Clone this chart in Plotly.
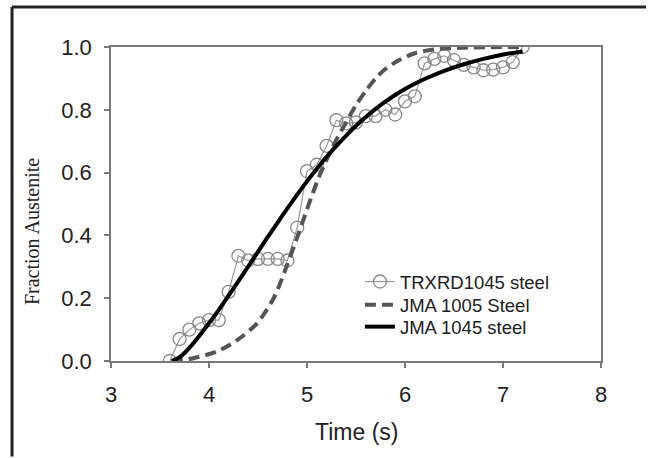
import plotly.graph_objects as go

# TRXRD measurements (1045 steel)
trx_time = [3.6, 3.7, 3.8, 3.9, 4.0, 4.1, 4.2, 4.3, 4.4, 4.5, 4.6, 4.7, 4.8, 4.9,
            5.0, 5.1, 5.2, 5.3, 5.4, 5.5, 5.6, 5.7, 5.8, 5.9, 6.0, 6.1, 6.2, 6.3,
            6.4, 6.5, 6.6, 6.7, 6.8, 6.9, 7.0, 7.1, 7.2]
trx_frac = [0.0, 0.07, 0.10, 0.12, 0.13, 0.13, 0.22, 0.335, 0.32, 0.325, 0.325, 0.325, 0.32, 0.425,
            0.605, 0.625, 0.685, 0.767, 0.757, 0.76, 0.78, 0.78, 0.80, 0.785, 0.827, 0.843, 0.948, 0.962,
            0.972, 0.958, 0.943, 0.935, 0.926, 0.928, 0.935, 0.952, 1.0]

# JMA 1005 steel curve
jma1005_time = [3.62, 3.84, 4.08, 4.28, 4.49, 4.66, 4.79, 4.89, 4.98, 5.06, 5.14, 5.22, 5.30,
                5.40, 5.50, 5.60, 5.70, 5.80, 5.95, 6.10, 6.30, 6.60, 7.20]
jma1005_frac = [0.0, 0.009, 0.03, 0.065, 0.12, 0.20, 0.30, 0.385, 0.465, 0.535, 0.60, 0.655, 0.705,
                0.76, 0.815, 0.86, 0.90, 0.93, 0.96, 0.98, 0.992, 0.998, 1.0]

# JMA 1045 steel curve
jma1045_time = [3.62, 3.7, 3.8, 3.9, 4.0, 4.1, 4.2, 4.3, 4.4, 4.5, 4.6, 4.7, 4.8, 4.9,
                5.0, 5.1, 5.2, 5.3, 5.4, 5.5, 5.6, 5.7, 5.8, 5.9, 6.0, 6.1, 6.2, 6.4,
                6.6, 6.8, 7.0, 7.2]
jma1045_frac = [0.0, 0.012, 0.042, 0.08, 0.12, 0.163, 0.208, 0.254, 0.301, 0.348, 0.395, 0.441,
                0.486, 0.53, 0.572, 0.612, 0.65, 0.685, 0.718, 0.749, 0.777, 0.803, 0.826, 0.847,
                0.866, 0.883, 0.898, 0.924, 0.945, 0.962, 0.976, 0.986]

x_ticks = [3, 4, 5, 6, 7, 8]
y_ticks = [0.0, 0.2, 0.4, 0.6, 0.8, 1.0]
y_ticklabels = ["0.0", "0.2", "0.4", "0.6", "0.8", "1.0"]

SANS = "Arial, Liberation Sans, sans-serif"
SERIF = "Times New Roman, Liberation Serif, serif"

fig = go.Figure()
fig.add_trace(go.Scatter(
    x=trx_time, y=trx_frac, mode="lines+markers", name="TRXRD1045 steel", legend="legend",
    line=dict(color="#9a9a9a", width=1.2),
    marker=dict(symbol="circle-open", size=13, color="#8a8a8a", line=dict(width=1.3)),
))
fig.add_trace(go.Scatter(
    x=jma1005_time, y=jma1005_frac, mode="lines", name="JMA 1005 Steel", legend="legend2",
    line=dict(color="#555555", width=4, dash="11px,6px", shape="spline", smoothing=0.8),
))
fig.add_trace(go.Scatter(
    x=jma1045_time, y=jma1045_frac, mode="lines", name="JMA 1045 steel", legend="legend3",
    line=dict(color="#000000", width=4, shape="spline", smoothing=0.8),
))

axis_common = dict(
    showgrid=False, zeroline=False, showline=True, linecolor="#7a7a7a", linewidth=1.5,
    mirror=True, ticks="outside", ticklen=5, tickcolor="#7a7a7a", tickwidth=1.5,
    tickfont=dict(family=SANS, size=22, color="#222222"),
)

leg_common = dict(xanchor="left", yanchor="middle", bgcolor="rgba(0,0,0,0)", borderwidth=0,
                  font=dict(family=SANS, size=18.5, color="#222222"))

fig.update_layout(
    width=650, height=458,
    margin=dict(l=111, r=49, t=47, b=97),
    paper_bgcolor="white", plot_bgcolor="white",
    xaxis=dict(range=[3, 8], tickvals=x_ticks, ticklabelstandoff=8, **axis_common),
    yaxis=dict(range=[0, 1.0], tickvals=y_ticks, ticktext=y_ticklabels, ticklabelstandoff=8,
               **axis_common),
    showlegend=True,
    legend=dict(x=0.508, y=0.2516, **leg_common),
    legend2=dict(x=0.508, y=0.178, **leg_common),
    legend3=dict(x=0.508, y=0.108, **leg_common),
    annotations=[
        dict(text="Fraction Austenite", xref="paper", yref="paper", x=-0.161, y=0.411,
             showarrow=False, textangle=-90, xanchor="center", yanchor="middle",
             font=dict(family=SERIF, size=20, color="#222222")),
        dict(text="Time (s)", xref="paper", yref="paper", x=0.5, y=-0.226,
             showarrow=False, xanchor="center", yanchor="middle",
             font=dict(family=SANS, size=23, color="#222222")),
    ],
    shapes=[
        dict(type="line", xref="paper", yref="paper", x0=-0.202, x1=-0.202, y0=-0.304, y1=1.127,
             line=dict(color="#222222", width=3)),
        dict(type="line", xref="paper", yref="paper", x0=-0.202, x1=1.092, y0=1.127, y1=1.127,
             line=dict(color="#222222", width=3)),
    ],
)

fig.write_html("out.html")
